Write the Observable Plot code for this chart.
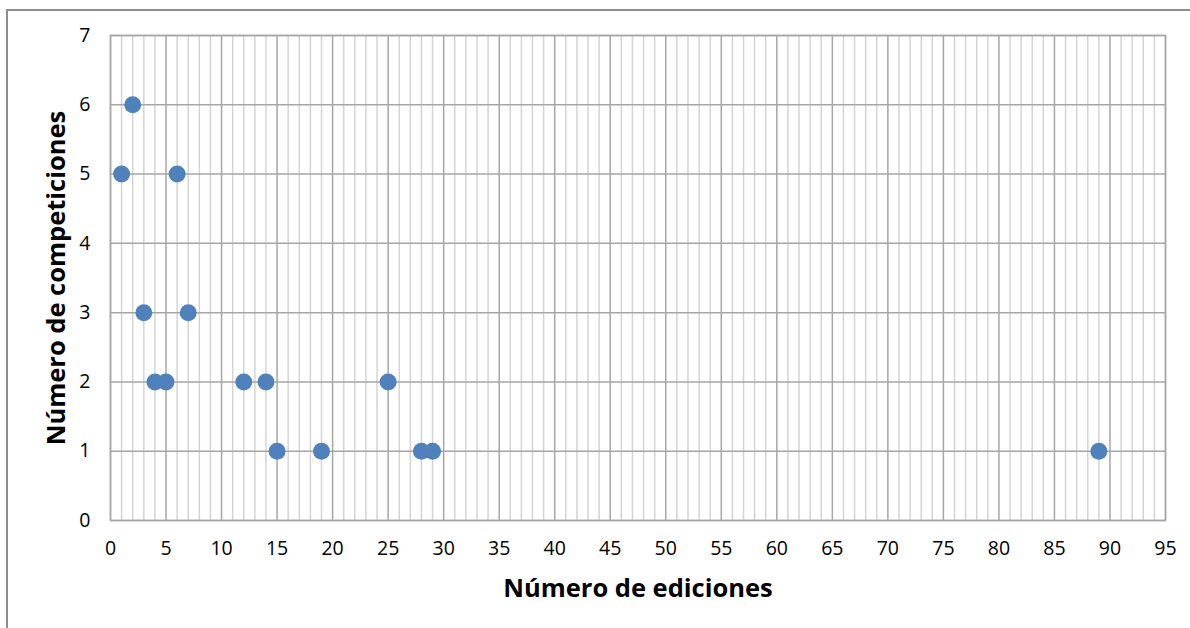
<!DOCTYPE html>
<html>
<head>
<meta charset="utf-8">
<script src="https://cdn.jsdelivr.net/npm/d3@7"></script>
<script src="https://cdn.jsdelivr.net/npm/@observablehq/plot@0.6"></script>
<style>
  html, body { margin: 0; padding: 0; background: #fff; overflow: hidden; }
  #wrap { position: relative; width: 1190px; height: 628px; }
  #border { position: absolute; left: 6px; top: 9px; width: 1300px; height: 800px; border: 2px solid #8c8c8c; box-sizing: border-box; }
  #chart { position: absolute; left: 0; top: 0; }
</style>
</head>
<body>
<div id="wrap">
  <div id="border"></div>
  <div id="chart"></div>
</div>
<script>
const ediciones     = [1, 2, 6, 3, 7, 4, 5, 12, 14, 25, 15, 19, 28, 29, 89];
const competiciones = [5, 6, 5, 3, 3, 2, 2, 2, 2, 2, 1, 1, 1, 1, 1];
const xTicks = [0, 5, 10, 15, 20, 25, 30, 35, 40, 45, 50, 55, 60, 65, 70, 75, 80, 85, 90, 95];
const yTicks = [0, 1, 2, 3, 4, 5, 6, 7];
const xMinor = d3.range(0, 96, 1).filter(v => v % 5 !== 0);
const xTitle = "Número de ediciones";
const yTitle = "Número de competiciones";

const data = ediciones.map((e, i) => ({ediciones: e, competiciones: competiciones[i]}));
const font = "Open Sans, Lato, sans-serif";

const chart = Plot.plot({
  width: 1190,
  height: 628,
  marginLeft: 110,
  marginRight: 25,
  marginTop: 35,
  marginBottom: 108,
  style: { fontFamily: font, background: "transparent", color: "#000" },
  x: { domain: [0, 95] },
  y: { domain: [0, 7] },
  marks: [
    Plot.ruleX(xMinor, { stroke: "#d4d4d4", strokeWidth: 1.5 }),
    Plot.ruleX(xTicks, { stroke: "#a6a6a6", strokeWidth: 1.5 }),
    Plot.ruleY(yTicks, { stroke: "#a6a6a6", strokeWidth: 1.5 }),
    Plot.frame({ stroke: "#a6a6a6", strokeWidth: 1.5 }),
    Plot.axisX({ ticks: xTicks, tickSize: 0, tickPadding: 21, fontSize: 19.5, label: null, tickFormat: d => d }),
    Plot.axisY({ ticks: yTicks, tickSize: 0, tickPadding: 20, fontSize: 19.5, label: null, tickFormat: d => d }),
    Plot.dot(data, { x: "ediciones", y: "competiciones", r: 8.5, fill: "#4f81bd", stroke: "none" }),
    Plot.text([xTitle], { frameAnchor: "bottom", dy: 76, fontSize: 25.5, fontWeight: "bold", fill: "#000" }),
    Plot.text([yTitle], { frameAnchor: "left", textAnchor: "middle", dx: -54, rotate: -90, fontSize: 25.5, fontWeight: "bold", fill: "#000" })
  ]
});
document.getElementById("chart").appendChild(chart);
</script>
</body>
</html>
